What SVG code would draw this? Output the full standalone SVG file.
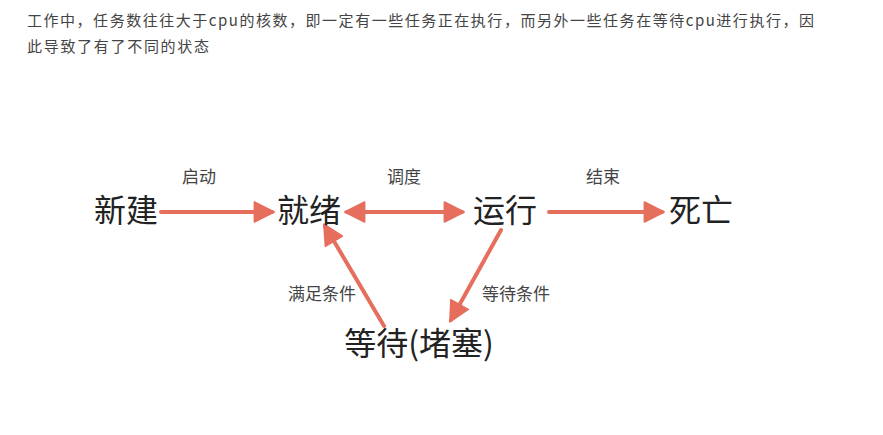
<svg xmlns="http://www.w3.org/2000/svg" width="883" height="435" viewBox="0 0 883 435">
<style>
  text { font-family: "Noto Sans CJK SC", "Noto Sans", sans-serif; }
  .intro { font-size: 15px; fill: #444; }
  .node { font-size: 32px; fill: #222; text-anchor: middle; }
  .lbl { font-size: 17px; fill: #444; text-anchor: middle; }
  .edge { stroke: #e66e5c; stroke-width: 4; fill: none; stroke-linecap: round; }
</style>
<defs>
  <marker id="ah" markerUnits="userSpaceOnUse" markerWidth="22" markerHeight="22" viewBox="0 0 20 20" refX="17" refY="10" orient="auto-start-reverse">
    <path d="M1,1 L19,10 L1,19 Z" fill="#e66e5c" stroke="#e66e5c" stroke-width="1.5" stroke-linejoin="round"/>
  </marker>
</defs>
<rect width="883" height="435" fill="#ffffff"/>
<g id="intro">
  <text class="intro" x="27" y="26" textLength="787" lengthAdjust="spacing">工作中，任务数往往大于cpu的核数，即一定有一些任务正在执行，而另外一些任务在等待cpu进行执行，因</text>
  <text class="intro" x="27" y="52" textLength="182" lengthAdjust="spacing">此导致了有了不同的状态</text>
</g>
<g id="connectors">
  <line class="edge" x1="161" y1="212" x2="272" y2="212" marker-end="url(#ah)"/>
  <line class="edge" x1="347" y1="212" x2="462" y2="212" marker-start="url(#ah)" marker-end="url(#ah)"/>
  <line class="edge" x1="549" y1="212" x2="662" y2="212" marker-end="url(#ah)"/>
  <line class="edge" x1="384" y1="326" x2="325" y2="226" marker-end="url(#ah)"/>
  <line class="edge" x1="501" y1="230" x2="451" y2="320" marker-end="url(#ah)"/>
</g>
<g id="n-new"><text class="node" x="126" y="222">新建</text></g>
<g id="n-ready"><text class="node" x="309" y="222">就绪</text></g>
<g id="n-run"><text class="node" x="505" y="222">运行</text></g>
<g id="n-dead"><text class="node" x="701" y="222">死亡</text></g>
<g id="n-wait"><text class="node" x="419" y="355">等待(堵塞)</text></g>
<g id="labels">
  <text class="lbl" x="199" y="183">启动</text>
  <text class="lbl" x="404" y="183">调度</text>
  <text class="lbl" x="603" y="183">结束</text>
  <text class="lbl" x="322" y="300">满足条件</text>
  <text class="lbl" x="516" y="300">等待条件</text>
</g>
</svg>
